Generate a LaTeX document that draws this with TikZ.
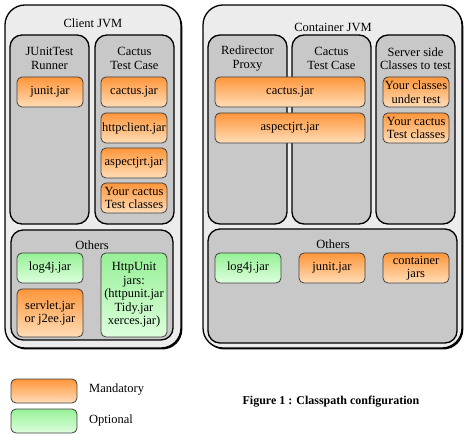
\documentclass[tikz,border=0pt]{standalone}
\usepackage{fontspec}
\setmainfont{Liberation Serif}
\usepackage{tikz}
\usetikzlibrary{shadows}

\definecolor{jvmgray}{HTML}{ECECEC}
\definecolor{partgray}{HTML}{C8C8C8}
\definecolor{orangetop}{HTML}{FF963A}
\definecolor{orangebot}{HTML}{FFDDB8}
\definecolor{greentop}{HTML}{96F096}
\definecolor{greenbot}{HTML}{DDFFDD}

\begin{document}
\begin{tikzpicture}[x=1pt,y=-1pt,
  every node/.style = {align=center, inner sep=1pt,
    font=\fontsize{12.5}{13.5}\selectfont},
  jvm/.style = {shape=rectangle, rounded corners=20pt, draw, line width=1.3pt,
    fill=jvmgray, drop shadow={opacity=1, fill=black,
    shadow xshift=1.3pt, shadow yshift=-1.5pt}},
  part/.style = {shape=rectangle, rounded corners=12pt, draw, line width=1.3pt,
    fill=partgray},
  mand/.style = {shape=rectangle, rounded corners=5pt, draw=black!75,
    line width=0.8pt, top color=orangetop, bottom color=orangebot,
    minimum width=66pt, minimum height=30pt},
  opt/.style = {mand, top color=greentop, bottom color=greenbot}]
  \useasboundingbox (0,0) rectangle (471,443);

  % Client JVM
  \node[jvm, minimum width=176pt, minimum height=343pt] (client) at (93,176.5) {};
  \node (clientt) at (93,23) {Client JVM};
  \node[part, minimum width=79pt, minimum height=189pt] (runner) at (49.5,129.5) {};
  \node (runnert) at (49.5,58.5) {JUnitTest\\Runner};
  \node[part, minimum width=79pt, minimum height=189pt] (ctc) at (134.5,129.5) {};
  \node (ctct) at (134.5,58.5) {Cactus\\Test Case};
  \node[mand] (cjunit) at (50,92) {junit.jar};
  \node[mand] (ccactus) at (134,92) {cactus.jar};
  \node[mand] (chttp) at (134,128) {httpclient.jar};
  \node[mand] (caspect) at (134,163) {aspectjrt.jar};
  \node[mand] (ctest) at (134,198) {Your cactus\\Test classes};
  \node[part, minimum width=162pt, minimum height=110pt] (cothers) at (92,285) {};
  \node (cotherst) at (92,245) {Others};
  \node[opt] (clog) at (50,268) {log4j.jar};
  \node[mand, minimum height=48pt] (cservlet) at (50,313) {servlet.jar\\or j2ee.jar};
  \node[opt, minimum height=84pt] (chttpunit) at (134,295)
    {HttpUnit\\jars:\\(httpunit.jar\\Tidy.jar\\xerces.jar)};

  % Container JVM
  \node[jvm, minimum width=259pt, minimum height=343pt] (server) at (332.5,176.5) {};
  \node (servert) at (333,27) {Container JVM};
  \node[part, minimum width=79pt, minimum height=189pt] (proxy) at (247.5,129.5) {};
  \node (proxyt) at (247.5,58.5) {Redirector\\Proxy};
  \node[part, minimum width=79pt, minimum height=189pt] (stc) at (331.5,129.5) {};
  \node (stct) at (331.5,58.5) {Cactus\\Test Case};
  \node[part, minimum width=79pt, minimum height=189pt] (side) at (415.5,129.5) {};
  \node (sidet) at (415.5,58.5) {Server side\\Classes to test};
  \node[mand, minimum width=150pt] (scactus) at (290,92) {cactus.jar};
  \node[mand, minimum width=150pt] (saspect) at (290,128) {aspectjrt.jar};
  \node[mand] (sclasses) at (416,92) {Your classes\\under test};
  \node[mand] (stest) at (416,128) {Your cactus\\Test classes};
  \node[part, minimum width=249pt, minimum height=114pt] (sothers) at (332.5,286) {};
  \node (sotherst) at (333,244) {Others};
  \node[opt] (slog) at (248,268) {log4j.jar};
  \node[mand] (sjunit) at (332,268) {junit.jar};
  \node[mand] (sjars) at (416,268) {container\\jars};

  % legend
  \node[mand, minimum height=24pt] (lmand) at (44,391) {};
  \node[anchor=west] (lmandt) at (88,390) {Mandatory};
  \node[opt, minimum height=24pt] (lopt) at (44,421) {};
  \node[anchor=west] (loptt) at (88,420) {Optional};
  \node[font=\fontsize{12}{13.5}\selectfont\bfseries] (caption) at (331,402)
    {Figure 1 : Classpath configuration};
\end{tikzpicture}
\end{document}
